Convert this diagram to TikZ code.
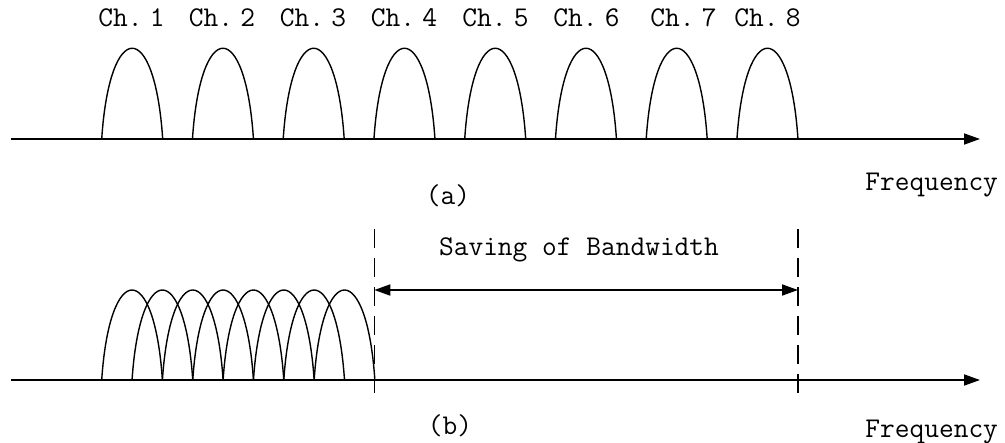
\documentclass[tikz,border=0pt]{standalone}
\usetikzlibrary{arrows.meta,positioning}

\begin{document}
\begin{tikzpicture}[x=0.5pt,y=-0.5pt,>={Triangle[length=8pt,width=5.5pt]}]
  \tikzstyle{axis}=[line width=0.9pt,->]
  \tikzstyle{lobe}=[line width=0.7pt]
  \tikzstyle{cut}=[line width=0.7pt,dash pattern=on 9.5pt off 5pt]
  \tikzstyle{lbl}=[font=\ttfamily\fontsize{14.3}{17}\selectfont,inner sep=0pt,anchor=base]
  \useasboundingbox (0,0) rectangle (1005,443);

  % (a) separate channels
  \coordinate (a0) at (11,139);
  \coordinate (a1) at (980,139);
  \draw[axis] (a0) -- (a1);
  \foreach \x/\n in {131.5/1,222/2,313/3,404/4,495.5/5,586.5/6,683.5/7,767.5/8} {
    \node[lbl] (ch\n) at (\x,27) {Ch.\hspace{0.25em}\n};
  }
  \foreach \i in {0,...,7} {
    \draw[lobe] ({101.7+90.75*\i},139) .. controls +(8,-121) and +(-8,-121) .. +(61,0);
  }
  \node[lbl] (capa) at (448,205) {(a)};
  \node[lbl,anchor=base west] (fa) at (865,191) {Frequency};

  % (b) overlapping channels
  \coordinate (b0) at (11,380);
  \coordinate (b1) at (980,380);
  \draw[axis] (b0) -- (b1);
  \foreach \i in {0,...,7} {
    \draw[lobe] ({101.7+30.35*\i},380) .. controls +(8,-120) and +(-8,-120) .. +(60.7,0);
  }
  \coordinate (c0) at (374.3,229);
  \coordinate (c1) at (374.3,401);
  \coordinate (d0) at (798,229);
  \coordinate (d1) at (798,401);
  \draw[cut] (c0) -- (c1);
  \draw[cut] (d0) -- (d1);
  \coordinate (s0) at (374.3,290);
  \coordinate (s1) at (798,290);
  \draw[line width=0.9pt,<->] (s0) -- (s1);
  \node[lbl] (save) at (579,255) {Saving of Bandwidth};
  \node[lbl] (capb) at (450,434) {(b)};
  \node[lbl,anchor=base west] (fb) at (865,437) {Frequency};
\end{tikzpicture}
\end{document}
